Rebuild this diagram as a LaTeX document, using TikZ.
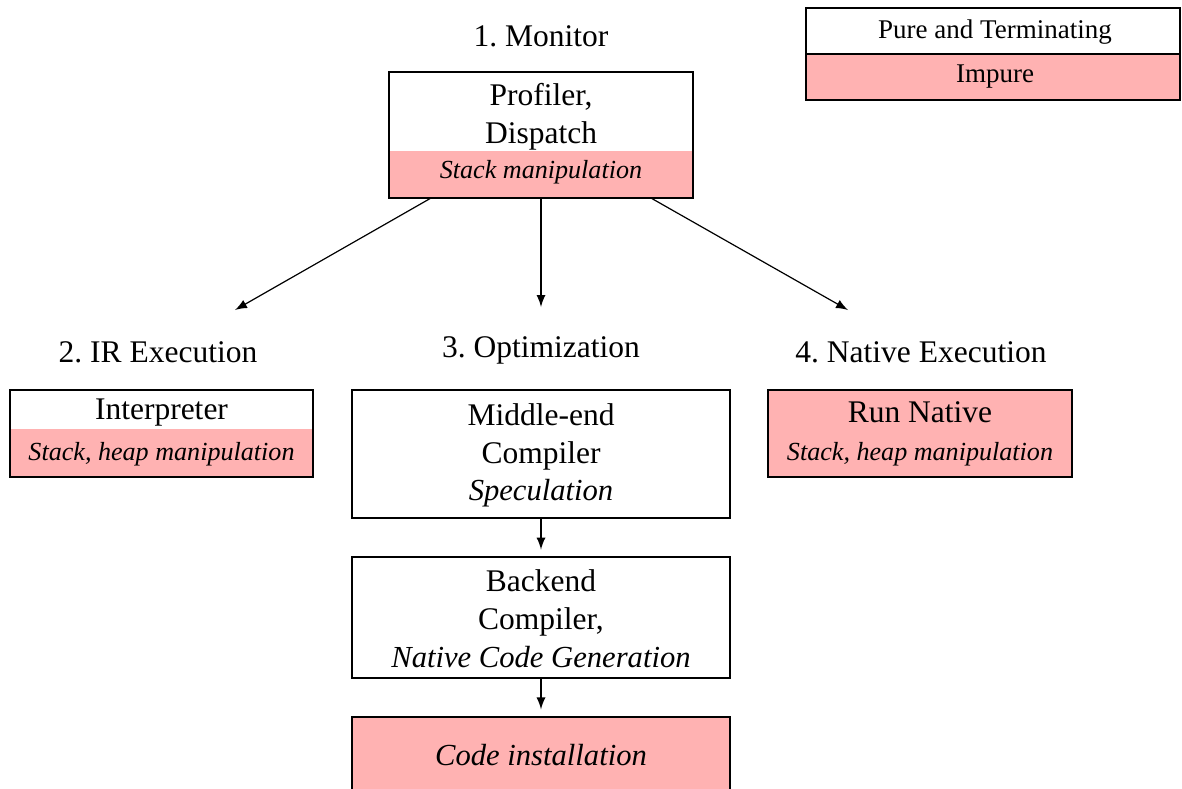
\documentclass[tikz,border=0pt]{standalone}
\usepackage{fontspec}
\setmainfont{Liberation Serif}
\frenchspacing
\usetikzlibrary{arrows, backgrounds, positioning}
\tikzset{
    box/.style={draw, rectangle, inner sep=0pt},
    impure/.style={fill=red!30},
    head/.style={font=\fontsize{10.5}{12.6}\selectfont, anchor=base, inner sep=0pt},
    txt/.style={font=\fontsize{10.5}{12.6}\selectfont, align=center, inner sep=0pt},
    note/.style={font=\fontsize{8.7}{10.5}\selectfont\itshape, anchor=base, inner sep=0pt},
    key/.style={font=\fontsize{9}{11}\selectfont, anchor=base, inner sep=0pt},
}
\newcommand{\midnote}[1]{{\fontsize{10.2}{12.6}\selectfont\itshape #1}}
\begin{document}
\begin{tikzpicture}[x=0.3333pt, y=-0.3333pt]
                        \useasboundingbox (0,0) rectangle (1182,789);

                        % legend
                        \node[box, minimum width=124.7pt, minimum height=30.7pt] (legend) at (993,54) {};
                        \draw[semithick] (legend.west) -- (legend.east);
                        \node[key] (pure) at (995,38) {Pure and Terminating};
                        \node[key] (imp) at (995,82) {Impure};

                        % 1. monitor
                        \node[head] (monhead) at (541,46) {1. Monitor};
                        \node[box, minimum width=101.3pt, minimum height=42pt] (mon) at (541,135) {};
                        \node[txt] (montxt) at (541,117) {Profiler,\\Dispatch};
                        \node[note] (monnote) at (541,178) {Stack manipulation};

                        % 2. IR execution
                        \node[head] (irhead) at (158,362) {2. IR Execution};
                        \node[box, minimum width=101pt, minimum height=29pt] (interp) at (161.5,433.5) {};
                        \node[head] (interptxt) at (161.5,419) {Interpreter};
                        \node[note] (interpnote) at (161.5,460) {Stack, heap manipulation};

                        % 3. optimization
                        \node[head] (opthead) at (541,357) {3. Optimization};
                        \node[box, minimum width=126pt, minimum height=42.7pt] (mid) at (541,454) {};
                        \node[txt] (midtxt) at (541,455.5) {Middle-end\\Compiler\\\midnote{Speculation}};
                        \node[box, minimum width=126pt, minimum height=40.3pt] (back) at (541,617.5) {};
                        \node[txt] (backtxt) at (541,618.5) {Backend\\Compiler,\\\midnote{Native Code Generation}};
                        \node[box, impure, minimum width=126pt, minimum height=26.7pt] (inst) at (541,757) {};
                        \node[head, font=\fontsize{10.2}{12.6}\selectfont\itshape] (insttxt) at (541,765) {Code installation};

                        % 4. native execution
                        \node[head] (nathead) at (921,362) {4. Native Execution};
                        \node[box, impure, minimum width=101.3pt, minimum height=29pt] (native) at (920,433.5) {};
                        \node[head] (nattxt) at (920,422) {Run Native};
                        \node[note] (natnote) at (920,460) {Stack, heap manipulation};

                        \begin{scope}[on background layer]
                            \fill[impure] (legend.south west) rectangle (legend.east);
                            \fill[impure] (mon.south west) rectangle ([yshift=16pt]mon.south east);
                            \fill[impure] (interp.south west) rectangle ([yshift=16.3pt]interp.south east);
                        \end{scope}

                        \coordinate (irend) at (235,310);
                        \coordinate (optend) at (541,307);
                        \coordinate (natend) at (848,310);

                        \draw[->, >=latex] ([xshift=-37pt]mon.south) -- (irend);
                        \draw[->, >=latex] (mon.south) -- (optend);
                        \draw[->, >=latex] ([xshift=37pt]mon.south) -- (natend);
                        \draw[->, >=latex, shorten >=2.3pt] (mid) -- (back);
                        \draw[->, >=latex, shorten >=2.3pt] (back) -- (inst);
                    \end{tikzpicture}
\end{document}
